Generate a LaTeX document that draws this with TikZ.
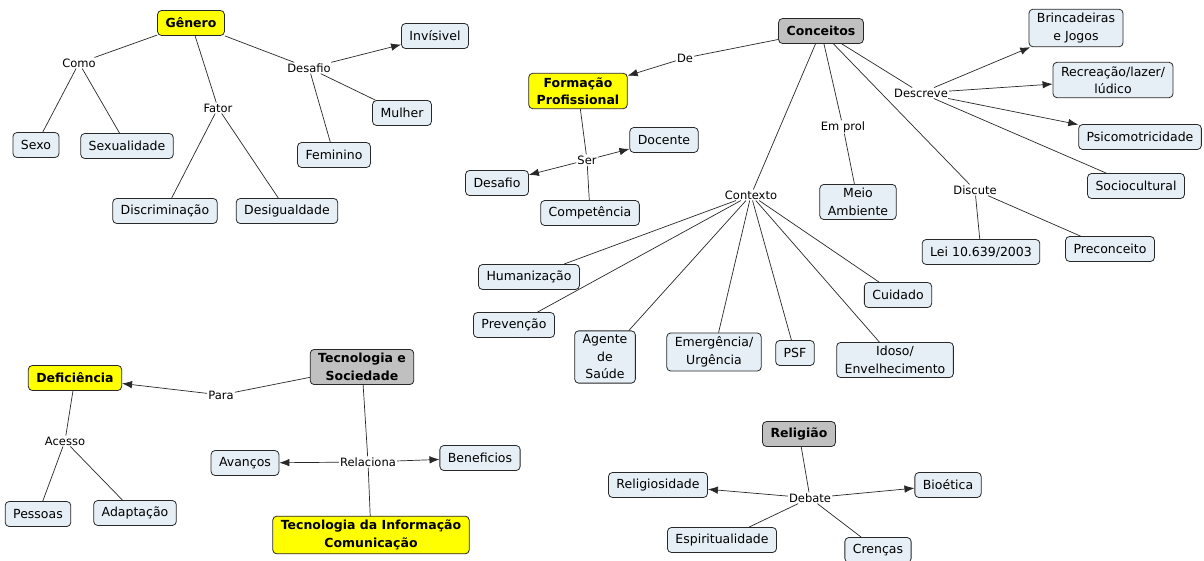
\documentclass[tikz,border=0pt]{standalone}
\usepackage{fontspec}
\setmainfont{DejaVu Sans}
\usetikzlibrary{arrows.meta}
\definecolor{boxfill}{RGB}{230,239,245}
\definecolor{hilite}{RGB}{255,255,0}
\definecolor{topic}{RGB}{192,192,192}
\definecolor{edge}{RGB}{40,40,40}
\tikzset{
  concept/.style={draw=edge, line width=0.8pt, rounded corners=4pt, fill=boxfill,
    align=center, font=\fontsize{12.5}{17.5}\selectfont, inner xsep=8pt, inner ysep=4pt,
    minimum height=25pt},
  keybox/.style={concept, fill=hilite, font=\fontsize{12.5}{17.5}\selectfont\bfseries},
  headbox/.style={concept, fill=topic, font=\fontsize{12.5}{17.5}\selectfont\bfseries},
  link/.style={font=\fontsize{11.5}{13}\selectfont, fill=white, inner sep=1pt},
  conn/.style={draw=edge, line width=0.7pt},
  arr/.style={conn, -{Latex[length=10pt,width=7.5pt]}},
}
\begin{document}
\begin{tikzpicture}[x=1pt,y=-1pt]
\useasboundingbox[fill=white] (0,0) rectangle (1204,561);

% ---- Gênero
\node[keybox] (genero) at (191,23) {Gênero};
\node[link] (como) at (79,63) {Como};
\node[concept] (sexo) at (36,145) {Sexo};
\node[concept] (sexual) at (127,146) {Sexualidade};
\node[link] (fator) at (218,108) {Fator};
\node[concept] (discr) at (165,211) {Discriminação};
\node[concept] (desig) at (287,211) {Desigualdade};
\node[link] (desafioL) at (309,68) {Desafio};
\node[concept] (invis) at (435,36) {Invísivel};
\node[concept] (mulher) at (402,113) {Mulher};
\node[concept] (femin) at (334,155) {Feminino};

\draw[conn] (genero) -- (como);
\draw[conn] (como) -- (sexo);
\draw[conn] (como) -- (sexual);
\draw[conn] (genero) -- (fator);
\draw[conn] (fator) -- (discr);
\draw[conn] (fator) -- (desig);
\draw[conn] (genero) -- (desafioL);
\draw[arr] (desafioL) -- (invis);
\draw[conn] (desafioL) -- (mulher);
\draw[conn] (desafioL) -- (femin);

% ---- Conceitos
\node[headbox] (conc) at (821,31) {Conceitos};
\node[link] (de) at (685,58) {De};
\node[keybox] (formacao) at (578,91) {Formação\\Profissional};
\node[link] (ser) at (587,160) {Ser};
\node[concept] (docente) at (664,140) {Docente};
\node[concept] (desafio) at (497,183) {Desafio};
\node[concept] (compet) at (590,213) {Competência};

\draw[conn] (conc) -- (de);
\draw[arr] (de) -- (formacao);
\draw[conn] (formacao) -- (ser);
\draw[arr] (ser) -- (docente);
\draw[arr] (ser) -- (desafio);
\draw[conn] (ser) -- (compet);

\node[link] (emprol) at (843,127) {Em prol};
\node[concept] (meio) at (858,202) {Meio\\Ambiente};
\draw[conn] (conc) -- (emprol);
\draw[conn] (emprol) -- (meio);

\node[link] (contexto) at (751,195) {Contexto};
\node[concept] (human) at (529,277) {Humanização};
\node[concept] (prev) at (514,325) {Prevenção};
\node[concept] (agente) at (605,357) {Agente\\de\\Saúde};
\node[concept] (emerg) at (714,352) {Emergência/\\Urgência};
\node[concept] (psf) at (795,353) {PSF};
\node[concept] (idoso) at (895,360) {Idoso/\\Envelhecimento};
\node[concept] (cuidado) at (898,295) {Cuidado};
\draw[conn] (conc) -- (contexto);
\foreach \t in {human,prev,agente,emerg,psf,idoso,cuidado}
  \draw[conn] (contexto) -- (\t);

\node[link] (descreve) at (921,93) {Descreve};
\node[concept] (brinc) at (1076,28) {Brincadeiras\\e Jogos};
\node[concept] (recre) at (1113,80) {Recreação/lazer/\\lúdico};
\node[concept] (psico) at (1140,137) {Psicomotricidade};
\node[concept] (socio) at (1136,186) {Sociocultural};
\draw[conn] (conc) -- (descreve);
\draw[arr] (descreve) -- (brinc);
\draw[arr] (descreve) -- (recre);
\draw[arr] (descreve) -- (psico);
\draw[conn] (descreve) -- (socio);

\node[link] (discute) at (975,190) {Discute};
\node[concept] (lei) at (981,252) {Lei 10.639/2003};
\node[concept] (precon) at (1110,249) {Preconceito};
\draw[conn] (conc) -- (discute);
\draw[conn] (discute) -- (lei);
\draw[conn] (discute) -- (precon);

% ---- Tecnologia e Sociedade
\node[headbox] (tecsoc) at (362,367) {Tecnologia e\\Sociedade};
\node[keybox] (defic) at (75,378) {Deficiência};
\node[link] (para) at (221,395) {Para};
\node[link] (acesso) at (65,441) {Acesso};
\node[concept] (pessoas) at (38,514) {Pessoas};
\node[concept] (adapt) at (135,513) {Adaptação};
\node[link] (relac) at (368,462) {Relaciona};
\node[concept] (avanc) at (245,463) {Avanços};
\node[concept] (benef) at (480,458) {Beneficios};
\node[keybox] (tic) at (371,535) {Tecnologia da Informação\\Comunicação};

\draw[conn] (tecsoc) -- (para);
\draw[arr] (para) -- (defic);
\draw[conn] (defic) -- (acesso);
\draw[conn] (acesso) -- (pessoas);
\draw[conn] (acesso) -- (adapt);
\draw[conn] (tecsoc) -- (relac);
\draw[conn] (relac) -- (tic);
\draw[arr] (relac) -- (avanc);
\draw[arr] (relac) -- (benef);

% ---- Religião
\node[headbox] (relig) at (799,434) {Religião};
\node[link] (debate) at (810,498) {Debate};
\node[concept] (religios) at (658,485) {Religiosidade};
\node[concept] (bioet) at (948,485) {Bioética};
\node[concept] (espir) at (722,540) {Espiritualidade};
\node[concept] (crencas) at (878,550) {Crenças};
\draw[conn] (relig) -- (debate);
\draw[arr] (debate) -- (religios);
\draw[arr] (debate) -- (bioet);
\draw[conn] (debate) -- (espir);
\draw[conn] (debate) -- (crencas);
\end{tikzpicture}
\end{document}
